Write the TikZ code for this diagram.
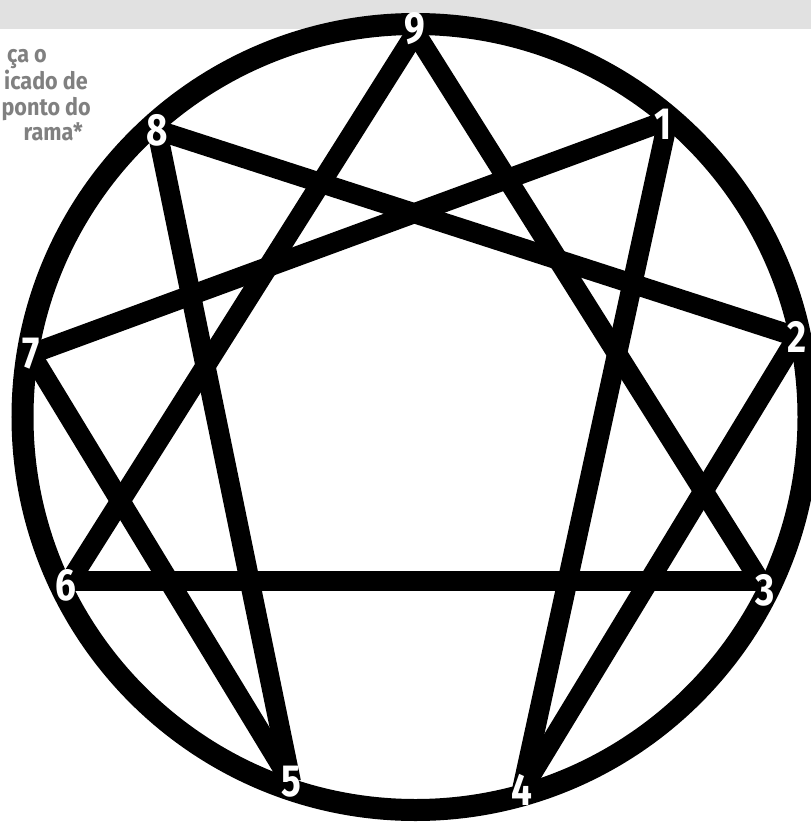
\documentclass[tikz,border=0pt]{standalone}
\usepackage{fontspec}
\newfontfamily\labfont{Fira Sans}
\definecolor{barc}{RGB}{225,225,225}
\definecolor{txtc}{RGB}{128,128,128}
\tikzset{
  ring/.style={line width=22pt, black},
  edge/.style={line width=20pt, black},
  num/.style={text=white, font=\labfont\bfseries\fontsize{45}{45}\selectfont, inner sep=0pt, xscale=0.82},
  intro/.style={text=txtc, font=\labfont\bfseries\fontsize{24}{24}\selectfont, inner sep=0pt, anchor=base east, xscale=0.9}
}
\begin{document}
\begin{tikzpicture}[x=1pt,y=-1pt]
\useasboundingbox (0,0) rectangle (811,822);
\clip (0,0) rectangle (811,822);
\fill[barc] (0,0) rectangle (811,29);
\coordinate (c) at (415.5,417);
% vertices
\coordinate (v9) at (415.5,33);
\coordinate (v1) at (668,120);
\coordinate (v2) at (797,337);
\coordinate (v3) at (760,581);
\coordinate (v4) at (522,790);
\coordinate (v5) at (291,782);
\coordinate (v6) at (70,581);
\coordinate (v7) at (31,354);
\coordinate (v8) at (157,130);
% triangle
\draw[edge] (v9) -- (v3);
\draw[edge] (v3) -- (v6);
\draw[edge] (v6) -- (v9);
% hexad 1-4-2-8-5-7-1
\draw[edge] (v1) -- (v4);
\draw[edge] (v4) -- (v2);
\draw[edge] (v2) -- (v8);
\draw[edge] (v8) -- (v5);
\draw[edge] (v5) -- (v7);
\draw[edge] (v7) -- (v1);
% ring
\draw[ring] (c) circle[radius=393];
% labels
\node[num] (l9) at (415,29) {9};
\node[num] (l1) at (663,124) {1};
\node[num] (l2) at (797,337) {2};
\node[num] (l3) at (765,590) {3};
\node[num] (l4) at (522,790) {4};
\node[num] (l5) at (291,782) {5};
\node[num] (l6) at (66,585) {6};
\node[num] (l7) at (31,354) {7};
\node[num] (l8) at (157,130) {8};
% intro text
\node[intro] (t1) at (47,62) {ça o};
\node[intro] (t2) at (88,89) {icado de};
\node[intro] (t3) at (91,115) {ponto do};
\node[intro] (t4) at (83,140) {rama*};
\end{tikzpicture}
\end{document}
